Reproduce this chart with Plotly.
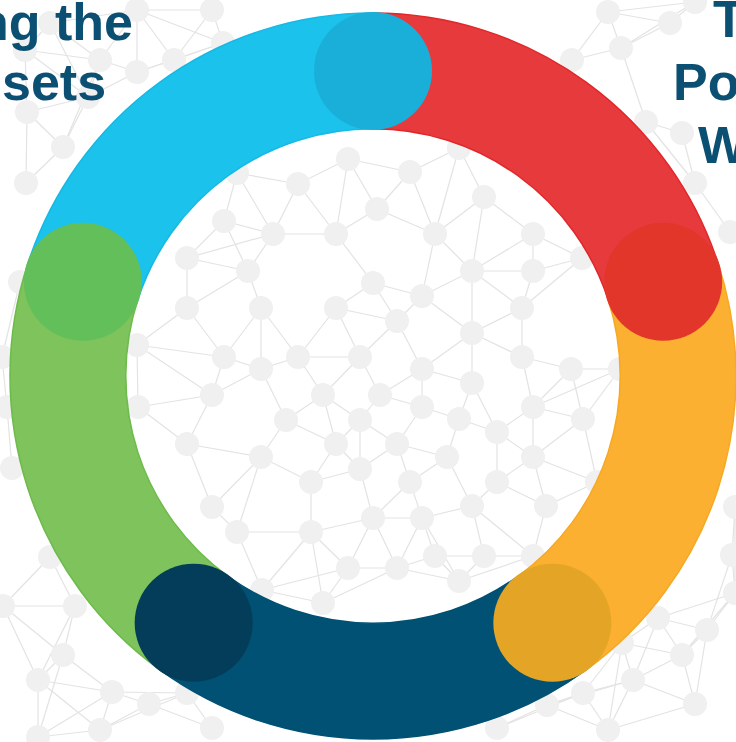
import numpy as np
import plotly.graph_objects as go

W, H = 736, 742

# ring segments (clockwise from 12 o'clock)
segment_names = ["Red", "Orange", "Dark blue", "Green", "Cyan"]
segment_values = [1, 1, 1, 1, 1]
segment_colors = ["#E63A3D", "#FBB031", "#005173", "#7EC35C", "#1BC2EC"]
segment_edge_colors = ["#E1272A", "#F7A823", "#005173", "#6DBB4B", "#16B8E4"]
# darker disc placed at the end of each segment
disc_colors = ["#E3362A", "#E4A527", "#033D59", "#63BF5A", "#1AAFD8"]

# background network nodes (pixel positions)
node_x = [137, 212, 50, 25, 100, 137, 174, 223, 27, 88, 63, 26, 237,
          608, 670, 695, 621, 572, 646, 682, 695, 730,
          348, 298, 224, 273, 336, 187, 248, 373, 187, 261, 336, 377, 137, 224, 261, 298, 360,
          459, 410, 484, 435, 533, 582, 472, 533, 422, 522, 397, 472, 522, 422, 571, 620,
          212, 138, 323, 380, 286, 360, 187, 336, 261, 360, 311, 212, 373, 237, 311, 348, 262, 323,
          472, 422, 533, 459, 583, 497, 397, 447, 533, 410, 497, 597, 472, 422, 546, 435, 484, 533, 397, 459,
          50, 3, 75, 63, 38, 112, 149, 100, 38, 187,
          2, 7, 12, 20,
          732, 735, 658, 707, 622, 682, 633, 583, 695, 608, 735,
          212, 497, 547]
node_y = [10, 10, 23, 50, 60, 72, 60, 43, 112, 97, 147, 183, 173,
          12, 23, 2, 48, 60, 122, 133, 183, 232,
          159, 184, 221, 234, 234, 258, 271, 283, 308, 308, 308, 209, 345, 357, 369, 357, 357,
          148, 172, 197, 234, 234, 258, 271, 271, 296, 308, 321, 333, 357, 369, 369, 369,
          395, 407, 395, 395, 420, 420, 444, 444, 457, 469, 482, 507, 518, 532, 532, 568, 590, 603,
          383, 407, 407, 419, 419, 432, 444, 457, 457, 482, 482, 482, 506, 518, 506, 556, 556, 556, 568, 581,
          557, 606, 606, 655, 680, 692, 704, 730, 737, 693,
          357, 407, 468, 282,
          555, 593, 618, 630, 643, 655, 680, 693, 704, 730, 507,
          728, 728, 705]

NEIGHBOURS = 4
MAX_LINK = 95

# ring geometry in pixels
CX, CY, R = 373, 376, 363
HOLE = 0.681
DISC_R = 59

fig = go.Figure()

# network edges: each node linked to its nearest neighbours
pts = np.column_stack([node_x, node_y]).astype(float)
n = len(pts)
links = set()
for i in range(n):
    d = np.hypot(pts[:, 0] - pts[i, 0], pts[:, 1] - pts[i, 1])
    order = np.argsort(d)
    for j in order[1:NEIGHBOURS + 1]:
        if d[j] < MAX_LINK:
            links.add((min(i, j), max(i, j)))
ex, ey = [], []
for i, j in sorted(links):
    ex += [node_x[i], node_x[j], None]
    ey += [node_y[i], node_y[j], None]
fig.add_trace(go.Scatter(x=ex, y=ey, mode="lines",
                         line=dict(color="#E3E3E3", width=1.2),
                         hoverinfo="skip", showlegend=False))
fig.add_trace(go.Scatter(x=node_x, y=node_y, mode="markers",
                         marker=dict(color="#F0F0F0", size=24, line=dict(width=0)),
                         hoverinfo="skip", showlegend=False))

# ring
fig.add_trace(go.Pie(
    labels=segment_names, values=segment_values, sort=False,
    direction="clockwise", rotation=0, hole=HOLE,
    marker=dict(colors=segment_colors, line=dict(color=segment_edge_colors, width=1.5)),
    textinfo="none", hoverinfo="skip", showlegend=False,
    domain=dict(x=[(CX - R) / W, (CX + R) / W],
                y=[(H - CY - R) / H, (H - CY + R) / H]),
))

# discs at the end of each segment
total = sum(segment_values)
cum = np.cumsum(segment_values)
rm = R * (1 + HOLE) / 2
for k, c in enumerate(cum):
    ang = np.deg2rad(90 - 360 * c / total)
    x = CX + rm * np.cos(ang)
    y = CY - rm * np.sin(ang)
    fig.add_shape(type="circle", xref="x", yref="y",
                  x0=x - DISC_R, x1=x + DISC_R, y0=y - DISC_R, y1=y + DISC_R,
                  fillcolor=disc_colors[k], line=dict(width=0), layer="above")

# partially visible titles
txt_font = dict(family="Liberation Sans, Arial, sans-serif", size=52, color="#0B5072", weight="bold")
left_lines = [("ng the", 135, 22), ("sets", 108, 82)]
right_lines = [("T", 711, 19), ("Po", 671, 82), ("W", 696, 145)]
for t, x, y in left_lines:
    fig.add_annotation(text=t, x=x, y=y, xref="x", yref="y", xanchor="right",
                       yanchor="middle", showarrow=False, font=txt_font)
for t, x, y in right_lines:
    fig.add_annotation(text=t, x=x, y=y, xref="x", yref="y", xanchor="left",
                       yanchor="middle", showarrow=False, font=txt_font)

fig.update_layout(
    width=W, height=H, margin=dict(l=0, r=0, t=0, b=0),
    paper_bgcolor="white", plot_bgcolor="white",
    xaxis=dict(range=[0, W], visible=False, fixedrange=True),
    yaxis=dict(range=[H, 0], visible=False, fixedrange=True),
)

fig.write_html("out.html",
               config={"displayModeBar": False},
               post_script="document.body.style.margin='0';document.body.style.overflow='hidden';")
